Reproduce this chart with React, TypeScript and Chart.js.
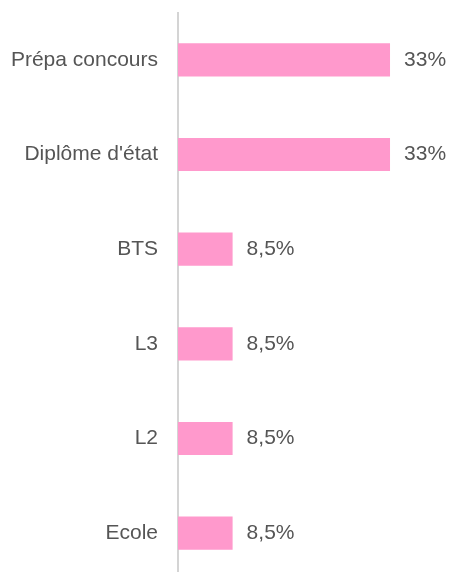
import React, { useEffect, useRef } from "react";
import { Chart, registerables } from "chart.js";

Chart.register(...registerables);

const categories = ["Prépa concours", "Diplôme d'état", "BTS", "L3", "L2", "Ecole"];
const values = [33, 33, 8.5, 8.5, 8.5, 8.5];
const valueLabels = ["33%", "33%", "8,5%", "8,5%", "8,5%", "8,5%"];

const FONT = "'Liberation Sans', Arial, Helvetica, sans-serif";

const valueLabelPlugin = {
  id: "valueLabels",
  afterDatasetsDraw(chart: any) {
    const ctx = chart.ctx;
    const meta = chart.getDatasetMeta(0);
    ctx.save();
    ctx.font = `21px ${FONT}`;
    ctx.fillStyle = "#555555";
    ctx.textAlign = "left";
    ctx.textBaseline = "middle";
    meta.data.forEach((bar: any, i: number) => {
      ctx.fillText(valueLabels[i], bar.x + 14, bar.y);
    });
    ctx.restore();
  },
};

export default function App() {
  const ref = useRef<HTMLCanvasElement | null>(null);
  useEffect(() => {
    if (!ref.current) return;
    const chart = new Chart(ref.current, {
      type: "bar",
      data: {
        labels: categories,
        datasets: [
          {
            data: values,
            backgroundColor: "#ff99cc",
            borderWidth: 0,
            categoryPercentage: 1,
            barPercentage: 0.35,
          },
        ],
      },
      options: {
        indexAxis: "y",
        animation: false,
        responsive: false,
        maintainAspectRatio: false,
        layout: { padding: { top: 12, bottom: 10, right: 16, left: 0 } },
        plugins: { legend: { display: false }, tooltip: { enabled: false } },
        scales: {
          x: {
            display: false,
            min: 0,
            max: 40,
          },
          y: {
            grid: { display: false, drawTicks: false },
            border: { display: true, color: "#d4d4d4", width: 2 },
            ticks: {
              padding: 20,
              color: "#555555",
              font: { family: FONT, size: 21 },
            },
            afterFit(scale: any) {
              scale.width = 178;
            },
          },
        },
      },
      plugins: [valueLabelPlugin],
    });
    return () => chart.destroy();
  }, []);
  return (
    <div style={{ position: "absolute", left: 0, top: -20, width: 451, height: 633 }}>
      <canvas ref={ref} width={451} height={633} style={{ display: "block" }} />
    </div>
  );
}
